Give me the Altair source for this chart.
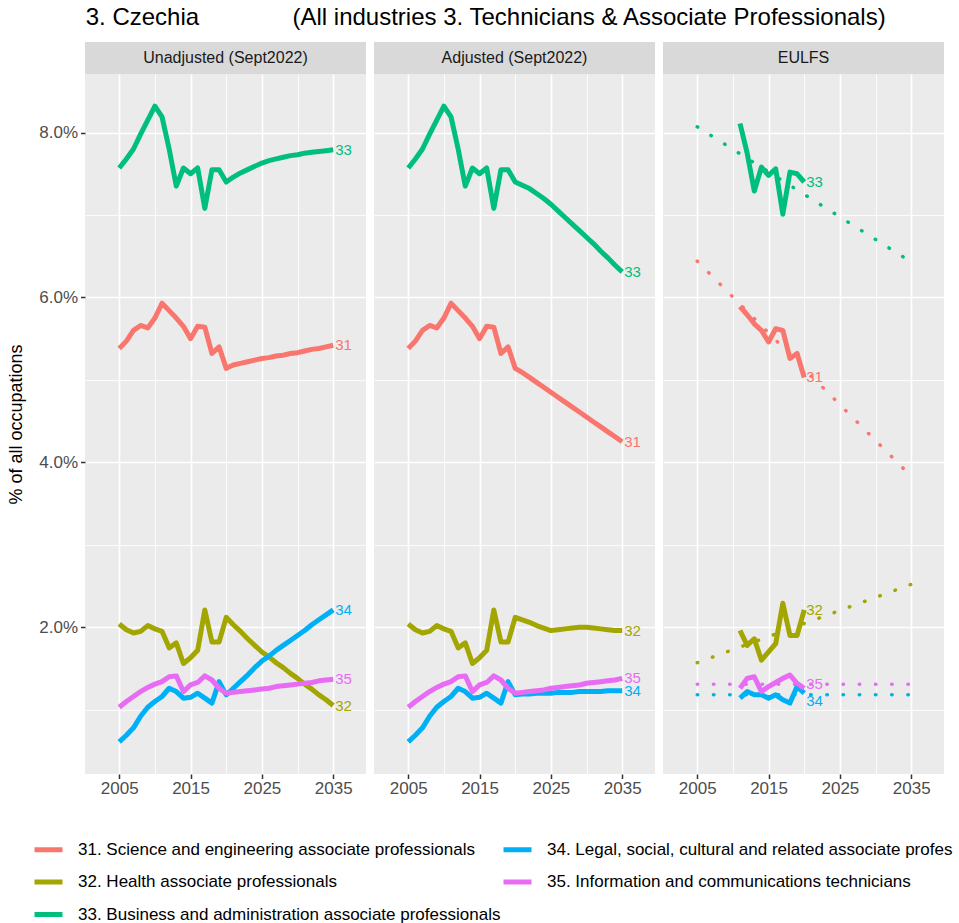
import altair as alt
import pandas as pd

FONT = "Liberation Sans"

# ---- data -------------------------------------------------------------
years_hist = list(range(2005, 2021))
years_proj = list(range(2021, 2036))
years_eulfs = list(range(2011, 2021))
trend_years = [2005, 2035]

codes = ["31", "32", "33", "34", "35"]
names = [
    "31. Science and engineering associate professionals",
    "32. Health associate professionals",
    "33. Business and administration associate professionals",
    "34. Legal, social, cultural and related associate profes",
    "35. Information and communications technicians",
]
colors = ["#F8766D", "#A3A500", "#00BF7D", "#00B0F6", "#E76BF3"]
legend_order = ["31", "34", "32", "35", "33"]

panels = ["Unadjusted (Sept2022)", "Adjusted (Sept2022)", "EULFS"]

# shares of all occupations (%), 2005-2020
hist = {
    "31": [5.38, 5.47, 5.60, 5.66, 5.63, 5.75, 5.93, 5.84, 5.75, 5.65, 5.50, 5.65, 5.64, 5.32, 5.40, 5.14],
    "32": [2.04, 1.97, 1.93, 1.95, 2.02, 1.98, 1.95, 1.75, 1.81, 1.56, 1.63, 1.72, 2.21, 1.82, 1.82, 2.12],
    "33": [7.57, 7.68, 7.80, 7.98, 8.15, 8.32, 8.19, 7.80, 7.35, 7.57, 7.50, 7.57, 7.08, 7.55, 7.55, 7.40],
    "34": [0.61, 0.69, 0.78, 0.92, 1.03, 1.10, 1.16, 1.26, 1.22, 1.14, 1.15, 1.20, 1.14, 1.08, 1.34, 1.18],
    "35": [1.03, 1.10, 1.16, 1.22, 1.27, 1.31, 1.34, 1.40, 1.41, 1.22, 1.30, 1.33, 1.41, 1.36, 1.26, 1.20],
}

# projections 2021-2035
proj_unadj = {
    "31": [5.18, 5.20, 5.22, 5.24, 5.26, 5.27, 5.29, 5.30, 5.32, 5.33, 5.35, 5.37, 5.38, 5.40, 5.42],
    "32": [2.03, 1.95, 1.86, 1.78, 1.70, 1.64, 1.57, 1.51, 1.44, 1.38, 1.31, 1.25, 1.18, 1.12, 1.05],
    "33": [7.46, 7.51, 7.55, 7.59, 7.63, 7.66, 7.68, 7.70, 7.72, 7.73, 7.75, 7.76, 7.77, 7.78, 7.79],
    "34": [1.26, 1.34, 1.42, 1.51, 1.59, 1.65, 1.72, 1.78, 1.84, 1.90, 1.96, 2.03, 2.09, 2.15, 2.21],
    "35": [1.21, 1.22, 1.23, 1.24, 1.25, 1.26, 1.28, 1.29, 1.30, 1.31, 1.32, 1.33, 1.35, 1.36, 1.37],
}
proj_adj = {
    "31": [5.09, 5.03, 4.97, 4.91, 4.85, 4.79, 4.73, 4.67, 4.61, 4.55, 4.49, 4.43, 4.37, 4.31, 4.25],
    "32": [2.09, 2.06, 2.02, 1.99, 1.96, 1.97, 1.98, 1.99, 2.00, 2.00, 1.99, 1.98, 1.97, 1.96, 1.96],
    "33": [7.36, 7.32, 7.26, 7.20, 7.13, 7.05, 6.97, 6.89, 6.81, 6.73, 6.65, 6.56, 6.48, 6.39, 6.31],
    "34": [1.19, 1.19, 1.20, 1.20, 1.20, 1.21, 1.21, 1.21, 1.22, 1.22, 1.22, 1.22, 1.23, 1.23, 1.23],
    "35": [1.21, 1.22, 1.23, 1.24, 1.26, 1.27, 1.28, 1.29, 1.30, 1.32, 1.33, 1.34, 1.35, 1.36, 1.38],
}

# EULFS observations 2011-2020 and linear trend end points (2005, 2035)
eulfs = {
    "31": [5.89, 5.79, 5.68, 5.60, 5.46, 5.62, 5.60, 5.26, 5.32, 5.03],
    "32": [1.96, 1.78, 1.86, 1.60, 1.70, 1.80, 2.29, 1.90, 1.90, 2.21],
    "33": [8.11, 7.75, 7.29, 7.58, 7.48, 7.56, 7.01, 7.52, 7.50, 7.40],
    "34": [1.14, 1.22, 1.18, 1.18, 1.14, 1.18, 1.12, 1.08, 1.28, 1.20],
    "35": [1.26, 1.38, 1.40, 1.22, 1.28, 1.33, 1.38, 1.42, 1.32, 1.26],
}
eulfs_trend = {
    "31": [6.44, 3.83],
    "32": [1.57, 2.52],
    "33": [8.07, 6.43],
    "34": [1.18, 1.18],
    "35": [1.31, 1.31],
}

# pixel nudges for end labels that would otherwise collide
label_dy = {"34": 8, "35": -4}

# ---- tables -----------------------------------------------------------
name_of = dict(zip(codes, names))
color_of = dict(zip(codes, colors))


def long_table(pieces):
    rows = []
    for years, table in pieces:
        for c in codes:
            for y, v in zip(years, table[c]):
                rows.append({"year": y, "value": v, "code": c, "series": name_of[c]})
    return pd.DataFrame(rows)


df_unadj = long_table([(years_hist, hist), (years_proj, proj_unadj)])
df_adj = long_table([(years_hist, hist), (years_proj, proj_adj)])
df_eulfs = long_table([(years_eulfs, eulfs)])
df_trend = long_table([(trend_years, eulfs_trend)])

# ---- styling helpers ----------------------------------------------------
W, H = 281, 700
STRIP = 32
X_DOMAIN = [2000.2, 2039.6]
Y_DOMAIN = [0.22, 8.71]
x_grid = list(range(2005, 2036, 5))
y_grid = list(range(1, 9))

x_major = "datum.value % 10 == 5"
y_major = "datum.value % 2 == 0"


def x_enc():
    return alt.X(
        "year:Q",
        scale=alt.Scale(domain=X_DOMAIN, nice=False, zero=False),
        axis=alt.Axis(
            values=x_grid,
            format="d",
            labelExpr=f"{x_major} ? datum.label : ''",
            tickColor={"condition": {"test": x_major, "value": "#333333"}, "value": "transparent"},
            gridWidth={"condition": {"test": x_major, "value": 1.6}, "value": 0.8},
            tickSize=4.5,
            tickWidth=1.5,
            labelPadding=2,
            labelOverlap=False,
            labelFlush=False,
            title=None,
        ),
    )


def y_enc(first):
    common = dict(
        values=y_grid,
        gridWidth={"condition": {"test": y_major, "value": 1.6}, "value": 0.8},
    )
    if first:
        axis = alt.Axis(
            labelExpr=f"{y_major} ? format(datum.value, '.1f') + '%' : ''",
            tickColor={"condition": {"test": y_major, "value": "#333333"}, "value": "transparent"},
            tickSize=4.5,
            tickWidth=1.5,
            labelPadding=3,
            title="% of all occupations",
            titleFontSize=18,
            titleFontWeight="normal",
            titleColor="#000000",
            titlePadding=13,
            **common,
        )
    else:
        axis = alt.Axis(labels=False, ticks=False, title=None, **common)
    return alt.Y("value:Q", scale=alt.Scale(domain=Y_DOMAIN, nice=False, zero=False), axis=axis)


def color_enc():
    return alt.Color(
        "series:N",
        scale=alt.Scale(
            domain=[name_of[c] for c in legend_order],
            range=[color_of[c] for c in legend_order],
        ),
        legend=alt.Legend(
            title=None,
            orient="none",
            legendX=-53,
            legendY=759,
            columns=2,
            direction="horizontal",
            symbolType="stroke",
            symbolStrokeWidth=5,
            symbolSize=784,
            labelFontSize=17,
            labelFont=FONT,
            labelColor="#000000",
            labelOffset=13,
            labelLimit=700,
            columnPadding=-18,
            rowPadding=5.5,
        ),
    )


def strip_layers(name):
    base = alt.Chart(pd.DataFrame({"panel": [name]}))
    rect = base.mark_rect(color="#D9D9D9").encode(
        x=alt.value(0), x2=alt.value(W), y=alt.value(-STRIP), y2=alt.value(0)
    )
    text = base.mark_text(font=FONT, fontSize=16, color="#1A1A1A").encode(
        x=alt.value(W / 2), y=alt.value(-STRIP / 2), text="panel:N"
    )
    return [rect, text]


def end_labels(df, first, nudged=False):
    last = df.sort_values("year").groupby("code").tail(1)
    layers = []
    if nudged:
        for c in codes:
            sub = last[last["code"] == c]
            layers.append(
                alt.Chart(sub).mark_text(align="left", dx=2, dy=label_dy.get(c, 0), fontSize=15, font=FONT)
                .encode(x=x_enc(), y=y_enc(first), text="code:N", color=color_enc())
            )
    else:
        layers.append(
            alt.Chart(last).mark_text(align="left", dx=2, fontSize=15, font=FONT)
            .encode(x=x_enc(), y=y_enc(first), text="code:N", color=color_enc())
        )
    return layers


def solid(df, first):
    return alt.Chart(df).mark_line(strokeWidth=5, strokeJoin="round", strokeCap="butt").encode(
        x=x_enc(), y=y_enc(first), color=color_enc(), detail="code:N"
    )


def dotted(df, first):
    return alt.Chart(df).mark_line(strokeWidth=3.5, strokeDash=[0.5, 15.7], strokeCap="round").encode(
        x=x_enc(), y=y_enc(first), color=color_enc(), detail="code:N"
    )


p1 = alt.layer(solid(df_unadj, True), *end_labels(df_unadj, True), *strip_layers(panels[0])).properties(
    width=W, height=H
)
p2 = alt.layer(solid(df_adj, False), *end_labels(df_adj, False), *strip_layers(panels[1])).properties(
    width=W, height=H
)
p3 = alt.layer(
    dotted(df_trend, False), solid(df_eulfs, False), *end_labels(df_eulfs, False, nudged=True),
    *strip_layers(panels[2])
).properties(width=W, height=H)

title_text = "3. Czechia" + "\u00a0" * 14 + "(All industries 3. Technicians & Associate Professionals)"

chart = (
    alt.hconcat(p1, p2, p3, spacing=8)
    .properties(
        title=alt.TitleParams(
            text=title_text,
            anchor="start",
            font=FONT,
            fontSize=24,
            fontWeight="normal",
            color="#000000",
            offset=12,
            dx=78,
        ),
        padding={"left": 7, "top": 6, "right": 0, "bottom": 0},
        background="white",
    )
    .configure_view(fill="#EBEBEB", stroke=None)
    .configure_axis(
        domain=False,
        gridColor="#FFFFFF",
        labelFont=FONT,
        titleFont=FONT,
        labelFontSize=17,
        labelColor="#4D4D4D",
    )
)

chart.save("out.html", embed_options={"renderer": "svg", "actions": False})
